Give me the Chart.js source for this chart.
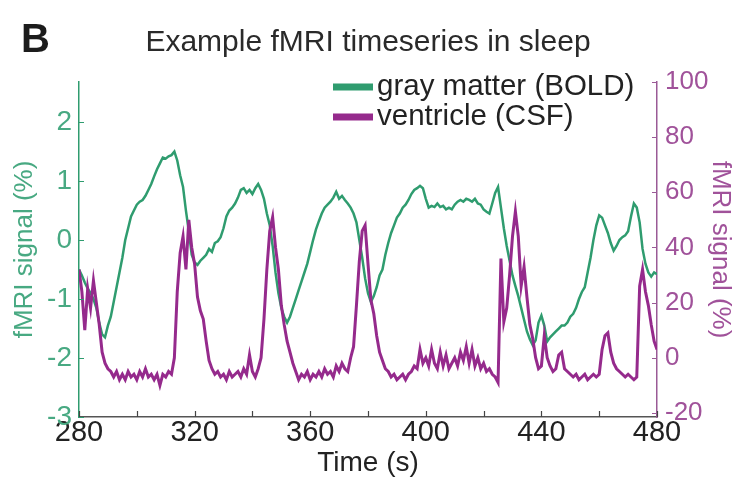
<!DOCTYPE html>
<html lang="en">
<head>
<meta charset="UTF-8">
<title>Example fMRI timeseries in sleep</title>
<script src="https://cdn.jsdelivr.net/npm/chart.js"></script>
<style>
  html, body { margin: 0; padding: 0; background: #fff; }
  #wrap { position: relative; width: 756px; height: 488px; }
</style>
</head>
<body>
<div id="wrap"><canvas id="chart"></canvas></div>
<script>
// sampling: one value per second starting at 280 s
const startTime = 280;
const timeStep = 1;

const xTickValues = [280, 300, 320, 340, 360, 380, 400, 420, 440, 460, 480];
const xTickLabels = [280, 320, 360, 400, 440, 480];
const leftTickValues = [-3, -2, -1, 0, 1, 2];
const rightTickValues = [-20, 0, 20, 40, 60, 80, 100];

const seriesNames = ['gray matter (BOLD)', 'ventricle (CSF)'];

// gray matter BOLD, % signal (left axis)
const grayMatter = [
  -0.50, -0.60, -0.72, -0.82, -0.90, -1.00, -1.15, -1.40, -1.60, -1.65,
  -1.45, -1.30, -1.05, -0.80, -0.55, -0.30, 0.00, 0.20, 0.40, 0.50,
  0.60, 0.65, 0.68, 0.75, 0.85, 0.95, 1.08, 1.20, 1.30, 1.40,
  1.38, 1.42, 1.44, 1.50, 1.35, 1.10, 0.90, 0.50, 0.15, -0.25,
  -0.38, -0.42, -0.35, -0.30, -0.25, -0.15, -0.20, -0.05, -0.02, 0.05,
  0.20, 0.40, 0.50, 0.55, 0.62, 0.72, 0.85, 0.88, 0.80, 0.85,
  0.78, 0.88, 0.95, 0.85, 0.70, 0.45, 0.25, -0.10, -0.55, -0.90,
  -1.15, -1.30, -1.40, -1.30, -1.15, -1.00, -0.85, -0.70, -0.55, -0.40,
  -0.20, 0.00, 0.18, 0.32, 0.45, 0.55, 0.60, 0.65, 0.72, 0.82,
  0.70, 0.75, 0.68, 0.62, 0.55, 0.45, 0.30, 0.00, -0.30, -0.65,
  -0.90, -1.05, -0.95, -0.80, -0.60, -0.50, -0.25, -0.05, 0.12, 0.25,
  0.38, 0.45, 0.55, 0.60, 0.68, 0.78, 0.85, 0.88, 0.92, 0.88,
  0.70, 0.55, 0.58, 0.56, 0.62, 0.56, 0.58, 0.52, 0.55, 0.52,
  0.60, 0.65, 0.68, 0.65, 0.70, 0.68, 0.65, 0.70, 0.62, 0.60,
  0.52, 0.48, 0.45, 0.62, 0.80, 0.90, 0.55, 0.20, -0.10, -0.35,
  -0.60, -0.78, -0.95, -1.15, -1.35, -1.55, -1.68, -1.78, -1.70, -1.40,
  -1.28, -1.45, -1.72, -1.65, -1.60, -1.55, -1.50, -1.45, -1.45, -1.40,
  -1.30, -1.25, -1.15, -1.00, -0.88, -0.80, -0.55, -0.30, 0.00, 0.25,
  0.42, 0.38, 0.25, 0.12, -0.05, -0.18, -0.10, 0.00, 0.05, 0.08,
  0.15, 0.40, 0.62, 0.55, 0.30, -0.15, -0.40, -0.55, -0.62, -0.55,
  -0.58
];

// ventricle CSF inflow, % signal (right axis)
const ventricle = [
  32, 24, 10, 25, 18, 28, 20, 12, 2, -2,
  -4, -5, -7, -5, -8, -6, -8, -5, -7, -6,
  -8, -5, -7, -4, -7, -6, -8, -6, -10, -6,
  -7, -5, -6, 0, 24, 38, 44, 32, 50, 40,
  34, 22, 17, 14, 6, -1, -4, -6, -5, -7,
  -6, -8, -5, -7, -6, -5, -7, -4, -6, 1,
  -5, -7, -4, 0, 14, 32, 46, 51, 40, 32,
  19, 12, 6, 2, -2, -5, -8, -6, -7, -5,
  -8, -6, -7, -5, -7, -4, -6, -5, -7, -3,
  -5, -2, -4, -5, 0, 4, 19, 35, 46, 48,
  34, 21, 16, 8, 2, -1, -4, -5, -7, -6,
  -8, -7, -6, -8, -6, -5, -3, -4, 3, -2,
  0, -3, 3, -2, -4, 2, -3, 1, -4, -2,
  0, -3, 2, -1, 4, -2, 3, -3, 0, -4,
  -2, -5, -4, -6, -7, -9, 36, 13, 18, 30,
  44, 53, 44, 26, 33, 22, 12, 7, 0, -4,
  -3, 8, 0, -3, -5, -4, 1, 2, -4, -5,
  -6, -7, -6, -8, -7, -6, -8, -7, -6, -7,
  -6, 3, 8, 9, 2, -2, -4, -5, -6, -7,
  -6, -7, -8, -7, 26, 32, 24, 19, 12, 6,
  3
];

const GREEN = '#2f9c6f';
const GREEN_TXT = '#48a982';
const PURPLE = '#952a8c';
const PURPLE_TXT = '#a0529a';
const FONT = "'Liberation Sans', Arial, Helvetica, sans-serif";

const toPoints = arr => arr.map((v, i) => ({ x: startTime + i * timeStep, y: v }));

// title, panel letter, legend and inward tick marks
const decorations = {
  id: 'decorations',
  afterDraw(chart) {
    const ctx = chart.ctx;
    const xs = chart.scales.x, yl = chart.scales.yL, yr = chart.scales.yR;
    ctx.save();

    // inward ticks
    ctx.lineWidth = 1.2;
    ctx.strokeStyle = '#444';
    ctx.beginPath();
    xTickValues.forEach(v => {
      const px = Math.round(xs.getPixelForValue(v)) + 0.5;
      ctx.moveTo(px, xs.top);
      ctx.lineTo(px, xs.top - 6);
    });
    ctx.stroke();
    ctx.strokeStyle = GREEN;
    ctx.beginPath();
    leftTickValues.forEach(v => {
      const py = Math.round(yl.getPixelForValue(v)) + 0.5;
      ctx.moveTo(yl.right, py);
      ctx.lineTo(yl.right + 5, py);
    });
    ctx.stroke();
    ctx.strokeStyle = '#9a5a96';
    ctx.beginPath();
    rightTickValues.forEach(v => {
      const py = Math.round(yr.getPixelForValue(v)) + 0.5;
      ctx.moveTo(yr.left, py);
      ctx.lineTo(yr.left - 5, py);
    });
    ctx.stroke();

    // panel letter and title
    ctx.fillStyle = '#1c1c1c';
    ctx.textBaseline = 'alphabetic';
    ctx.textAlign = 'left';
    ctx.font = 'bold 40px ' + FONT;
    ctx.fillText('B', 21, 52);
    ctx.fillStyle = '#2a2a2a';
    ctx.textAlign = 'center';
    ctx.font = '30px ' + FONT;
    ctx.fillText('Example fMRI timeseries in sleep', 368, 51);

    // legend
    const ds = chart.data.datasets;
    const rows = [ds[1], ds[0]]; // gray matter first
    ctx.textAlign = 'left';
    ctx.font = '29.5px ' + FONT;
    rows.forEach((d, i) => {
      const y = 87 + i * 30;
      ctx.fillStyle = d.borderColor;
      ctx.fillRect(333, y - 3.5, 40, 7);
      ctx.fillStyle = '#222';
      ctx.fillText(d.label, 377, y + 8);
    });
    ctx.restore();
  }
};

new Chart(document.getElementById('chart'), {
  type: 'line',
  data: {
    datasets: [
      {
        label: seriesNames[1],
        data: toPoints(ventricle),
        yAxisID: 'yR',
        borderColor: PURPLE,
        borderWidth: 3,
        pointRadius: 0,
        tension: 0,
        order: 1
      },
      {
        label: seriesNames[0],
        data: toPoints(grayMatter),
        yAxisID: 'yL',
        borderColor: GREEN,
        borderWidth: 2.5,
        pointRadius: 0,
        tension: 0,
        order: 2
      }
    ]
  },
  options: {
    responsive: true,
    maintainAspectRatio: false,
    animation: false,
    layout: { padding: { top: 82, left: 0, right: 0, bottom: 0 } },
    plugins: {
      legend: { display: false },
      title: { display: false },
      tooltip: { enabled: false }
    },
    scales: {
      x: {
        type: 'linear',
        min: 280,
        max: 480,
        afterBuildTicks: s => { s.ticks = xTickValues.map(v => ({ value: v })); },
        afterFit: s => { s.height = 71; },
        grid: { display: false, drawTicks: false },
        border: { display: true, color: '#555', width: 1.5 },
        ticks: {
          padding: 0,
          color: '#222',
          maxRotation: 0,
          autoSkip: false,
          font: { family: FONT, size: 29, lineHeight: 1.1 },
          callback: v => xTickLabels.includes(v) ? String(v) : ''
        },
        title: {
          display: true,
          text: 'Time (s)',
          color: '#222',
          font: { family: FONT, size: 28, lineHeight: 1.2 },
          padding: { top: 0, bottom: 8 }
        }
      },
      yL: {
        type: 'linear',
        position: 'left',
        min: -3,
        max: 2.68,
        afterBuildTicks: s => { s.ticks = leftTickValues.map(v => ({ value: v })); },
        afterFit: s => { s.width = 79; },
        grid: { display: false, drawTicks: false },
        border: { display: true, color: GREEN, width: 1.5 },
        ticks: {
          padding: 7,
          color: GREEN_TXT,
          font: { family: FONT, size: 28 },
          callback: v => String(v)
        },
        title: {
          display: true,
          text: 'fMRI signal (%)',
          color: GREEN_TXT,
          font: { family: FONT, size: 26, lineHeight: 1.2 },
          padding: { top: 9, bottom: 0 }
        }
      },
      yR: {
        type: 'linear',
        position: 'right',
        min: -21.5,
        max: 100,
        afterBuildTicks: s => { s.ticks = rightTickValues.map(v => ({ value: v })); },
        afterFit: s => { s.width = 99; },
        grid: { display: false, drawTicks: false },
        border: { display: true, color: '#9a5a96', width: 1.5 },
        ticks: {
          padding: 8,
          color: PURPLE_TXT,
          font: { family: FONT, size: 26 },
          callback: v => String(v)
        },
        title: {
          display: true,
          text: 'fMRI signal (%)',
          color: PURPLE_TXT,
          font: { family: FONT, size: 26, lineHeight: 1.2 },
          padding: { top: 20, bottom: 0 }
        }
      }
    }
  },
  plugins: [decorations]
});
</script>
</body>
</html>
